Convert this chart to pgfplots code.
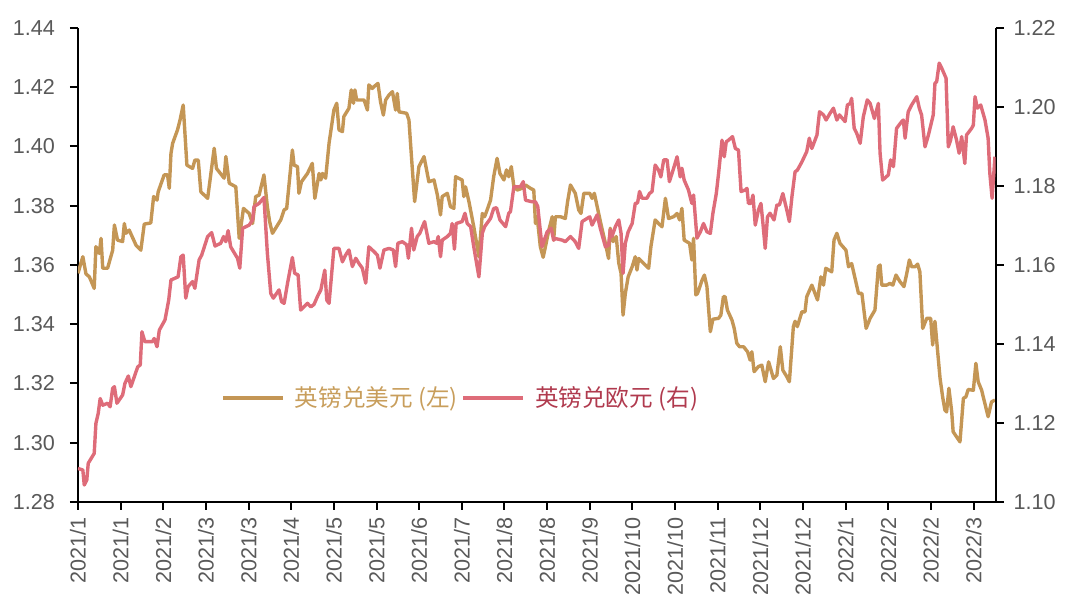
\documentclass[border=0pt]{standalone}
\usepackage{fontspec}
\setmainfont{Liberation Sans}
\newfontfamily\cjk{Noto Sans CJK SC}
\usepackage{pgfplots}
\pgfplotsset{compat=1.18}
\definecolor{gold}{RGB}{196,150,85}
\definecolor{rosered}{RGB}{222,108,121}
\definecolor{goldtext}{RGB}{200,158,92}
\definecolor{redtext}{RGB}{176,58,78}
\definecolor{ticktext}{RGB}{89,89,89}
\pgfplotsset{
  common/.style={
    scale only axis, width=458.75pt, height=237pt,
    xmin=0, xmax=322.7,
    axis line style={line width=1pt, black},
    tick style={line width=1pt, black},
    tick align=outside, major tick length=4pt,
    tick label style={font=\fontsize{10.8}{12}\selectfont, text=ticktext},
    /pgf/number format/assume math mode=true,
    yticklabel style={/pgf/number format/fixed, /pgf/number format/fixed zerofill, /pgf/number format/precision=2},
  }
}
\begin{document}
\begin{tikzpicture}
\begin{axis}[common, name=ax,
  axis x line*=bottom, axis y line*=left,
  ymin=1.28, ymax=1.44,
  ytick={1.28,1.30,1.32,1.34,1.36,1.38,1.40,1.42,1.44},
  yticklabel style={xshift=-4pt},
  xtick={0,15,30,45,60,75,90,105,120,135,150,165,180,195,210,225,240,255,270,285,300,315},
  xticklabels={2021/1,2021/1,2021/2,2021/3,2021/3,2021/4,2021/5,2021/5,2021/6,2021/7,2021/8,2021/8,2021/9,2021/10,2021/10,2021/11,2021/12,2021/12,2022/1,2022/2,2022/2,2022/3},
  xticklabel style={rotate=90, anchor=east},
  legend style={at={(rel axis cs:0.156,0.219)}, anchor=west, draw=none, fill=none,
    inner sep=0pt, legend columns=2, font=\fontsize{11.8}{13}\selectfont,
    /tikz/every odd column/.append style={column sep=3pt}},
  legend image code/.code={\draw[#1] (0pt,0pt) -- (30pt,0pt);},
]
\addplot[gold, line width=1.7pt, line join=round, no markers] coordinates {
(0,1.3572)(1.7,1.3628)(2.8,1.357)(4.0,1.356)(5.7,1.3521)(6.3,1.3662)(7.5,1.3639)(8.1,1.369)(8.7,1.3589)(10.4,1.3589)(12.2,1.365)(12.8,1.3735)(13.9,1.3684)(15.7,1.3679)(16.3,1.374)(16.9,1.3707)(18.0,1.3718)(20.4,1.3667)(22.1,1.365)(23.3,1.3738)(25.6,1.3742)(26.6,1.3831)(27.8,1.3819)(28.2,1.3847)(30.3,1.3904)(31.5,1.3904)(32.1,1.3859)(32.7,1.3977)(33.3,1.4011)(35.0,1.4056)(35.9,1.409)(37.0,1.414)(38.3,1.3937)(40.3,1.3926)(41.1,1.3954)(42.3,1.3954)(43.2,1.3847)(45.6,1.3825)(47.9,1.3994)(48.7,1.3926)(51.4,1.3893)(52.0,1.3966)(53.2,1.3876)(55.5,1.3864)(56.7,1.369)(58.2,1.3791)(60.2,1.3774)(61.4,1.374)(62.5,1.3831)(63.7,1.3836)(65.4,1.3904)(66.6,1.3797)(67.4,1.3746)(68.4,1.3707)(71.3,1.3752)(72.5,1.3786)(73.4,1.3791)(75.4,1.3988)(76.0,1.3937)(77.2,1.3932)(77.7,1.3842)(78.6,1.3881)(80.7,1.3909)(82.4,1.3943)(83.3,1.3825)(84.8,1.3909)(85.4,1.3887)(86.0,1.3909)(87.1,1.3893)(88.3,1.4011)(90.0,1.4123)(91.0,1.4146)(91.8,1.4056)(93.0,1.405)(93.5,1.4101)(95.3,1.4129)(96.1,1.4191)(96.9,1.4146)(97.4,1.4191)(98.0,1.4157)(100.6,1.4157)(101.8,1.4123)(102.3,1.4208)(103.5,1.4196)(104.1,1.4202)(105.5,1.4213)(106.4,1.4151)(107.4,1.4106)(108.2,1.4157)(109.4,1.4174)(110.6,1.4185)(111.7,1.4123)(112.3,1.4179)(112.9,1.4117)(115.6,1.4112)(116.4,1.4089)(117.2,1.3977)(118.4,1.3814)(119.9,1.3932)(121.7,1.3966)(123.4,1.3881)(125.2,1.3887)(126.4,1.3836)(127.5,1.3769)(128.1,1.3831)(129.9,1.3842)(131.0,1.3797)(132.2,1.3791)(132.8,1.3898)(135.1,1.3887)(135.7,1.3831)(136.3,1.3864)(137.5,1.3814)(139.2,1.3729)(141.0,1.3628)(142.2,1.3774)(143.0,1.3763)(143.9,1.3786)(145.1,1.3819)(146.2,1.3898)(147.4,1.396)(148.4,1.3909)(149.8,1.3887)(150.7,1.3921)(151.5,1.3898)(152.4,1.3932)(153.3,1.3864)(154.5,1.3853)(156.2,1.3859)(157.4,1.387)(159.1,1.3859)(160.3,1.3853)(160.9,1.374)(161.5,1.3763)(162.6,1.3662)(163.6,1.3626)(164.4,1.3662)(165.6,1.3718)(166.8,1.3763)(167.3,1.3684)(167.9,1.3763)(169.7,1.3763)(171.4,1.3757)(172.2,1.3814)(173.2,1.387)(174.9,1.3842)(176.1,1.3786)(176.9,1.3774)(177.9,1.3842)(180.0,1.3842)(180.8,1.3825)(181.6,1.3842)(182.6,1.3797)(184.0,1.3735)(185.5,1.3673)(186.6,1.3622)(187.2,1.3724)(188.2,1.3679)(189.3,1.3696)(190.2,1.3606)(191.0,1.3572)(191.7,1.3431)(192.5,1.3504)(193.5,1.356)(194.9,1.3594)(196.0,1.3628)(196.6,1.3583)(197.2,1.3622)(198.9,1.3606)(200.7,1.3589)(201.5,1.3662)(203.0,1.3752)(204.2,1.374)(205.4,1.3729)(206.6,1.3825)(207.7,1.3757)(209.5,1.3763)(210.7,1.3774)(211.6,1.3752)(212.4,1.3791)(213.2,1.3684)(215.1,1.3673)(215.9,1.3617)(216.5,1.369)(217.3,1.3499)(217.9,1.3504)(219.5,1.3549)(220.3,1.3566)(221.2,1.3527)(222.4,1.3375)(223.3,1.3417)(225.3,1.342)(226.1,1.3431)(227.0,1.3493)(227.6,1.3493)(228.4,1.3448)(230.0,1.3414)(230.8,1.3386)(231.7,1.3336)(232.7,1.3324)(234.1,1.3324)(235.5,1.3307)(236.4,1.3279)(237.0,1.3307)(237.8,1.324)(239.3,1.3257)(240.5,1.3262)(241.7,1.3206)(242.9,1.3273)(244.6,1.3217)(245.8,1.3228)(247.0,1.3324)(247.9,1.3245)(249.3,1.3223)(250.2,1.3206)(251.6,1.3392)(252.2,1.341)(253.0,1.3392)(254.6,1.3442)(255.7,1.3442)(256.3,1.3493)(258.1,1.3532)(260.1,1.3482)(261.3,1.356)(262.2,1.3532)(263.0,1.3589)(265.1,1.3577)(265.9,1.3684)(266.9,1.3707)(268.0,1.3673)(270.1,1.365)(271.0,1.3594)(272.1,1.3605)(273.3,1.3555)(274.5,1.3504)(275.7,1.3504)(277.2,1.3386)(278.6,1.342)(280.3,1.3448)(281.5,1.3594)(282.1,1.36)(282.7,1.3532)(284.4,1.3532)(285.6,1.3538)(286.6,1.3532)(287.7,1.3566)(289.1,1.3544)(290.5,1.3527)(291.5,1.3572)(292.4,1.3617)(293.2,1.3594)(294.4,1.3594)(295.3,1.3603)(296.1,1.3577)(297.1,1.3386)(298.5,1.342)(299.9,1.342)(300.6,1.333)(301.4,1.341)(302.2,1.3324)(303.2,1.3217)(304.1,1.3155)(304.9,1.311)(305.5,1.3104)(306.3,1.3184)(307.3,1.3104)(307.8,1.3037)(309.0,1.302)(310.2,1.3003)(311.4,1.315)(312.3,1.3155)(313.1,1.318)(314.9,1.3177)(315.8,1.3268)(316.6,1.3206)(317.8,1.3178)(320.1,1.3088)(321.3,1.3138)(322.5,1.3144)
};
\addlegendentry{{\cjk\textcolor{goldtext}{英镑兑美元 (左)}}}
\addlegendimage{rosered, line width=1.7pt}
\addlegendentry{{\cjk\textcolor{redtext}{英镑兑欧元 (右)}}}
\end{axis}
\begin{axis}[common,
  axis x line=none, axis y line*=right,
  ymin=1.10, ymax=1.22,
  ytick={1.10,1.12,1.14,1.16,1.18,1.20,1.22},
  yticklabel style={xshift=1.5pt},
]
\addplot[rosered, line width=1.7pt, line join=round, no markers] coordinates {
(0,1.1085)(1.7,1.1081)(2.2,1.1043)(3.1,1.1056)(3.6,1.1098)(5.7,1.1123)(6.3,1.1199)(7.1,1.1224)(7.8,1.1262)(8.7,1.1245)(10.4,1.125)(11.3,1.1241)(12.2,1.1288)(12.8,1.1292)(13.7,1.125)(15.7,1.1271)(16.5,1.13)(17.7,1.1319)(18.6,1.1292)(21.0,1.1342)(21.9,1.1347)(22.5,1.1431)(23.5,1.1406)(26.2,1.1406)(26.8,1.1414)(27.8,1.1393)(28.6,1.1435)(30.6,1.1461)(31.9,1.1511)(32.7,1.1562)(35.2,1.157)(36.2,1.1621)(37.0,1.1625)(37.9,1.1516)(38.7,1.1545)(40.3,1.1558)(41.1,1.1541)(42.6,1.1613)(43.5,1.1625)(45.6,1.1672)(47.0,1.1682)(48.2,1.1648)(50.2,1.1655)(51.2,1.1672)(52.0,1.1659)(52.8,1.1687)(53.7,1.1646)(56.1,1.1617)(56.9,1.1592)(57.9,1.1693)(60.2,1.1701)(61.4,1.1714)(61.9,1.1748)(63.7,1.1756)(65.4,1.1771)(66.6,1.163)(67.8,1.1528)(68.7,1.1516)(70.7,1.1537)(71.6,1.1507)(72.5,1.1503)(73.7,1.1554)(75.4,1.1619)(76.2,1.1579)(77.4,1.1575)(78.3,1.1486)(80.7,1.1503)(81.9,1.1494)(83.0,1.15)(84.2,1.152)(85.4,1.1537)(86.8,1.1587)(87.5,1.1511)(88.3,1.1503)(90.0,1.1642)(91.8,1.1642)(93.0,1.1608)(94.1,1.1625)(95.3,1.1638)(96.5,1.1596)(97.7,1.1617)(98.8,1.1604)(100.0,1.1592)(101.2,1.1554)(102.3,1.1646)(104.1,1.1634)(105.3,1.1625)(106.2,1.1592)(107.6,1.1638)(109.4,1.1642)(110.9,1.1638)(111.7,1.1596)(112.5,1.1655)(114.1,1.1659)(115.6,1.1651)(116.2,1.1617)(117.3,1.1693)(118.1,1.1638)(119.3,1.1672)(120.2,1.168)(121.9,1.171)(123.4,1.1655)(125.2,1.1659)(126.1,1.1655)(126.7,1.1672)(127.5,1.1621)(128.1,1.1663)(129.9,1.1672)(131.0,1.168)(131.6,1.1705)(132.4,1.164)(133.0,1.1705)(135.1,1.171)(136.1,1.1731)(136.9,1.1705)(138.1,1.1697)(139.2,1.1646)(141.0,1.157)(142.2,1.168)(143.0,1.1697)(145.1,1.1718)(146.2,1.1743)(147.2,1.1745)(148.4,1.1714)(150.4,1.1697)(151.5,1.1731)(152.1,1.1735)(153.3,1.1798)(155.6,1.1798)(156.6,1.1811)(157.4,1.1764)(159.7,1.176)(160.9,1.176)(161.7,1.1748)(163.2,1.1646)(165.0,1.1684)(166.4,1.1693)(167.3,1.1663)(167.9,1.1667)(170.3,1.1663)(171.4,1.1659)(173.2,1.1672)(174.9,1.1659)(176.1,1.1642)(177.3,1.171)(179.1,1.1718)(180.0,1.1722)(180.8,1.1701)(181.7,1.1714)(182.6,1.1727)(183.7,1.1693)(185.5,1.1646)(186.6,1.165)(187.2,1.1689)(187.8,1.1672)(189.0,1.1697)(190.2,1.1714)(191.0,1.168)(191.7,1.1579)(192.5,1.1655)(193.5,1.1684)(194.9,1.1705)(196.0,1.1756)(196.8,1.1757)(197.5,1.1786)(198.4,1.1769)(200.1,1.1769)(201.0,1.1781)(201.9,1.1786)(203.0,1.1853)(204.2,1.184)(205.0,1.1823)(206.0,1.1866)(207.2,1.1866)(208.0,1.1811)(209.5,1.1845)(210.7,1.1874)(211.8,1.1823)(212.4,1.1845)(213.2,1.1815)(214.7,1.179)(215.9,1.1756)(216.5,1.1777)(217.7,1.1668)(218.9,1.1684)(220.0,1.1705)(221.2,1.1684)(222.4,1.168)(223.3,1.1731)(224.5,1.1781)(225.3,1.1832)(226.5,1.1916)(227.3,1.1874)(228.0,1.1912)(228.8,1.1916)(230.2,1.1925)(231.2,1.1895)(232.3,1.1891)(233.2,1.1786)(234.7,1.179)(235.3,1.1794)(235.8,1.1756)(236.7,1.1756)(237.4,1.1777)(238.2,1.1701)(239.3,1.1739)(240.2,1.1756)(240.9,1.1705)(241.7,1.1642)(242.5,1.1722)(243.4,1.1731)(244.8,1.1714)(245.8,1.1752)(246.7,1.1752)(247.9,1.1781)(249.3,1.1739)(250.2,1.171)(251.1,1.1773)(252.2,1.1836)(253.0,1.184)(254.6,1.1861)(256.3,1.1887)(257.2,1.1921)(258.1,1.1895)(259.9,1.1929)(260.8,1.1988)(262.2,1.198)(263.1,1.1967)(264.5,1.1984)(265.7,1.1997)(266.9,1.1967)(267.8,1.198)(269.8,1.1963)(270.6,1.2005)(271.6,1.2009)(272.1,1.2022)(273.0,1.1946)(273.9,1.1933)(275.1,1.1908)(276.2,1.1975)(277.6,1.2018)(278.6,1.2009)(280.1,1.1971)(281.5,1.2009)(282.1,1.1883)(283.0,1.1815)(285.0,1.1828)(285.8,1.1866)(286.8,1.1849)(287.9,1.1946)(289.7,1.1963)(290.3,1.1967)(290.9,1.1921)(292.0,1.1988)(293.2,1.2005)(295.0,1.2026)(295.9,1.1997)(296.7,1.198)(297.9,1.1899)(299.1,1.1929)(300.8,1.198)(301.4,1.206)(302.0,1.2064)(302.9,1.2111)(303.8,1.2098)(305.3,1.2073)(306.1,1.1899)(306.9,1.1916)(307.8,1.195)(309.0,1.1916)(309.9,1.1883)(310.8,1.1925)(311.9,1.1857)(312.5,1.1929)(314.3,1.1946)(314.9,1.1954)(315.5,1.2026)(316.3,1.1997)(317.5,1.2005)(319.0,1.1967)(320.1,1.1921)(320.7,1.1832)(321.5,1.1769)(322.5,1.1874)
};
\end{axis}
\pgfresetboundingbox
\useasboundingbox ([shift={(-39pt,-53.5pt)}]ax.south west) rectangle ([shift={(42.25pt,14pt)}]ax.north east);
\end{tikzpicture}
\end{document}
